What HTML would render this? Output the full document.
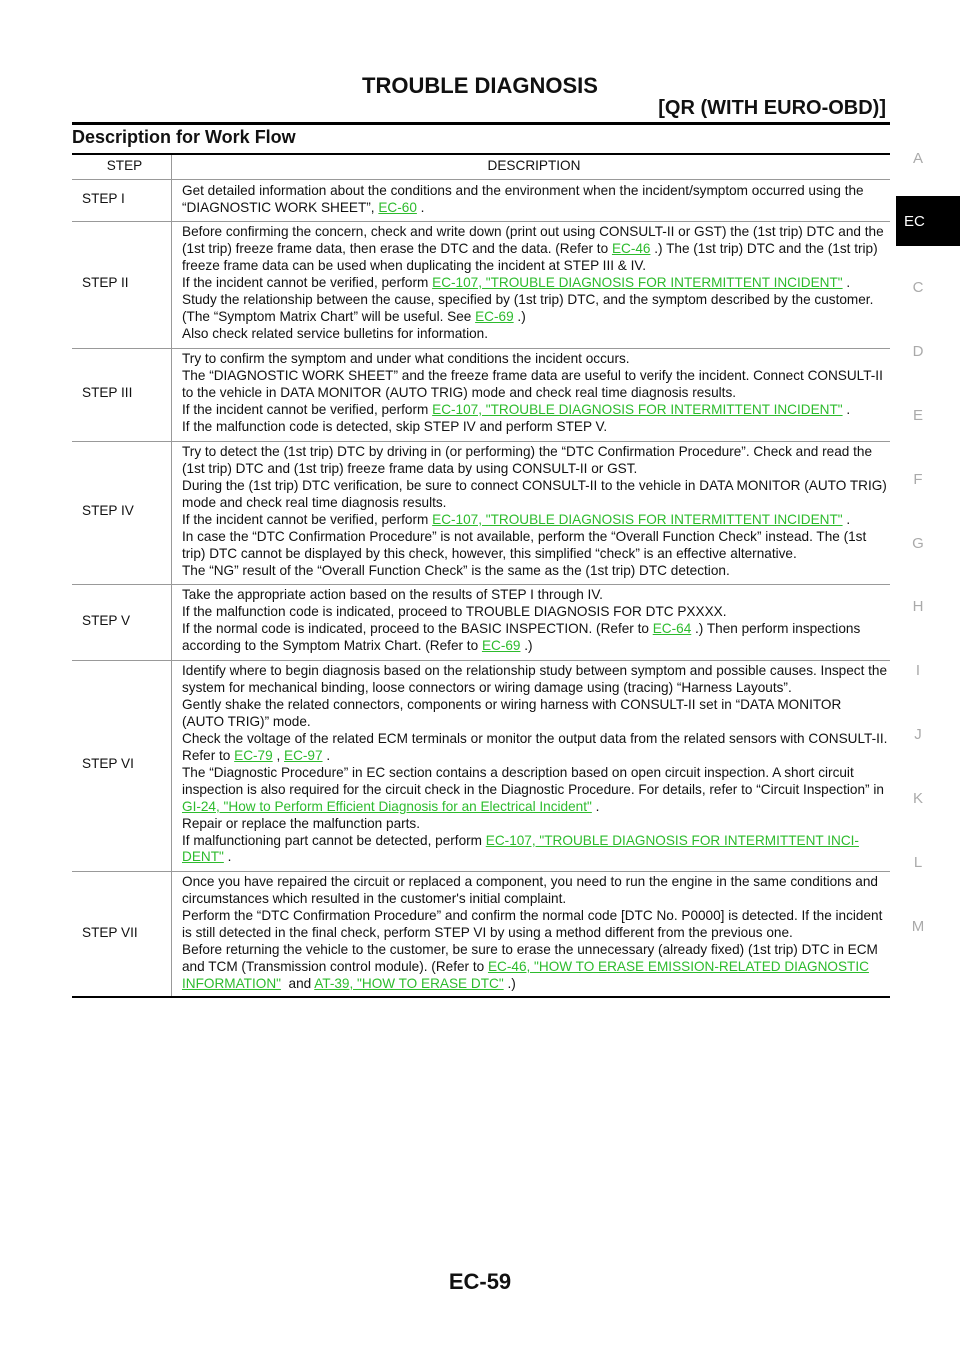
<!DOCTYPE html>
<html><head><meta charset="utf-8"><style>
body{margin:0;width:960px;height:1358px;position:relative;background:#fff;font-family:"Liberation Sans",Arial,sans-serif;color:#111;overflow:hidden}
.a{position:absolute;white-space:nowrap}
.t{position:absolute;left:182px;font-size:13.6px;line-height:16px;white-space:nowrap}
.s{position:absolute;left:82px;font-size:13.6px;line-height:16px}
a,.l{color:#2dbb2d;text-decoration:underline}
.hr{position:absolute;left:72px;width:818px;height:1px;background:#999}
.tab{position:absolute;left:908px;width:20px;text-align:center;font-size:15px;color:#aaa}
</style></head><body>
<div class="a" style="left:0;width:960px;text-align:center;top:73px;font-size:22px;font-weight:bold">TROUBLE DIAGNOSIS</div>
<div class="a" style="right:74px;top:97px;font-size:20px;font-weight:bold">[QR (WITH EURO-OBD)]</div>
<div style="position:absolute;left:72px;top:122px;width:818px;height:3px;background:#000"></div>
<div class="a" style="left:72px;top:127px;font-size:18px;font-weight:bold">Description for Work Flow</div>
<div style="position:absolute;left:72px;top:153px;width:818px;height:2px;background:#000"></div>
<div style="position:absolute;left:72px;top:996px;width:818px;height:2px;background:#000"></div>
<div style="position:absolute;left:171px;top:155px;width:1px;height:841px;background:#999"></div>
<div class="hr" style="top:179px"></div>
<div class="hr" style="top:221px"></div>
<div class="hr" style="top:348px"></div>
<div class="hr" style="top:441px"></div>
<div class="hr" style="top:584px"></div>
<div class="hr" style="top:660px"></div>
<div class="hr" style="top:871px"></div>
<div class="a" style="left:72px;width:105px;text-align:center;top:158px;font-size:13.6px">STEP</div>
<div class="a" style="left:172px;width:724px;text-align:center;top:158px;font-size:13.6px">DESCRIPTION</div>

<div class="s" style="top:191px">STEP I</div>
<div class="t" style="top:183px">Get detailed information about the conditions and the environment when the incident/symptom occurred using the</div>
<div class="t" style="top:200px">“DIAGNOSTIC WORK SHEET”, <a>EC-60</a> .</div>

<div class="s" style="top:275px">STEP II</div>
<div class="t" style="top:224px">Before confirming the concern, check and write down (print out using CONSULT-II or GST) the (1st trip) DTC and the</div>
<div class="t" style="top:241px">(1st trip) freeze frame data, then erase the DTC and the data. (Refer to <a>EC-46</a> .) The (1st trip) DTC and the (1st trip)</div>
<div class="t" style="top:258px">freeze frame data can be used when duplicating the incident at STEP III &amp; IV.</div>
<div class="t" style="top:275px">If the incident cannot be verified, perform <a>EC-107, "TROUBLE DIAGNOSIS FOR INTERMITTENT INCIDENT"</a> .</div>
<div class="t" style="top:292px">Study the relationship between the cause, specified by (1st trip) DTC, and the symptom described by the customer.</div>
<div class="t" style="top:309px">(The “Symptom Matrix Chart” will be useful. See <a>EC-69</a> .)</div>
<div class="t" style="top:326px">Also check related service bulletins for information.</div>

<div class="s" style="top:385px">STEP III</div>
<div class="t" style="top:351px">Try to confirm the symptom and under what conditions the incident occurs.</div>
<div class="t" style="top:368px">The “DIAGNOSTIC WORK SHEET” and the freeze frame data are useful to verify the incident. Connect CONSULT-II</div>
<div class="t" style="top:385px">to the vehicle in DATA MONITOR (AUTO TRIG) mode and check real time diagnosis results.</div>
<div class="t" style="top:402px">If the incident cannot be verified, perform <a>EC-107, "TROUBLE DIAGNOSIS FOR INTERMITTENT INCIDENT"</a> .</div>
<div class="t" style="top:419px">If the malfunction code is detected, skip STEP IV and perform STEP V.</div>

<div class="s" style="top:503px">STEP IV</div>
<div class="t" style="top:444px">Try to detect the (1st trip) DTC by driving in (or performing) the “DTC Confirmation Procedure”. Check and read the</div>
<div class="t" style="top:461px">(1st trip) DTC and (1st trip) freeze frame data by using CONSULT-II or GST.</div>
<div class="t" style="top:478px">During the (1st trip) DTC verification, be sure to connect CONSULT-II to the vehicle in DATA MONITOR (AUTO TRIG)</div>
<div class="t" style="top:495px">mode and check real time diagnosis results.</div>
<div class="t" style="top:512px">If the incident cannot be verified, perform <a>EC-107, "TROUBLE DIAGNOSIS FOR INTERMITTENT INCIDENT"</a> .</div>
<div class="t" style="top:529px">In case the “DTC Confirmation Procedure” is not available, perform the “Overall Function Check” instead. The (1st</div>
<div class="t" style="top:546px">trip) DTC cannot be displayed by this check, however, this simplified “check” is an effective alternative.</div>
<div class="t" style="top:563px">The “NG” result of the “Overall Function Check” is the same as the (1st trip) DTC detection.</div>

<div class="s" style="top:613px">STEP V</div>
<div class="t" style="top:587px">Take the appropriate action based on the results of STEP I through IV.</div>
<div class="t" style="top:604px">If the malfunction code is indicated, proceed to TROUBLE DIAGNOSIS FOR DTC PXXXX.</div>
<div class="t" style="top:621px">If the normal code is indicated, proceed to the BASIC INSPECTION. (Refer to <a>EC-64</a> .) Then perform inspections</div>
<div class="t" style="top:638px">according to the Symptom Matrix Chart. (Refer to <a>EC-69</a> .)</div>

<div class="s" style="top:756px">STEP VI</div>
<div class="t" style="top:663px">Identify where to begin diagnosis based on the relationship study between symptom and possible causes. Inspect the</div>
<div class="t" style="top:680px">system for mechanical binding, loose connectors or wiring damage using (tracing) “Harness Layouts”.</div>
<div class="t" style="top:697px">Gently shake the related connectors, components or wiring harness with CONSULT-II set in “DATA MONITOR</div>
<div class="t" style="top:714px">(AUTO TRIG)” mode.</div>
<div class="t" style="top:731px">Check the voltage of the related ECM terminals or monitor the output data from the related sensors with CONSULT-II.</div>
<div class="t" style="top:748px">Refer to <a>EC-79</a> , <a>EC-97</a> .</div>
<div class="t" style="top:765px">The “Diagnostic Procedure” in EC section contains a description based on open circuit inspection. A short circuit</div>
<div class="t" style="top:782px">inspection is also required for the circuit check in the Diagnostic Procedure. For details, refer to “Circuit Inspection” in</div>
<div class="t" style="top:799px"><a>GI-24, "How to Perform Efficient Diagnosis for an Electrical Incident"</a> .</div>
<div class="t" style="top:816px">Repair or replace the malfunction parts.</div>
<div class="t" style="top:833px">If malfunctioning part cannot be detected, perform <a>EC-107, "TROUBLE DIAGNOSIS FOR INTERMITTENT INCI-</a></div>
<div class="t" style="top:849px"><a>DENT"</a> .</div>

<div class="s" style="top:925px">STEP VII</div>
<div class="t" style="top:874px">Once you have repaired the circuit or replaced a component, you need to run the engine in the same conditions and</div>
<div class="t" style="top:891px">circumstances which resulted in the customer's initial complaint.</div>
<div class="t" style="top:908px">Perform the “DTC Confirmation Procedure” and confirm the normal code [DTC No. P0000] is detected. If the incident</div>
<div class="t" style="top:925px">is still detected in the final check, perform STEP VI by using a method different from the previous one.</div>
<div class="t" style="top:942px">Before returning the vehicle to the customer, be sure to erase the unnecessary (already fixed) (1st trip) DTC in ECM</div>
<div class="t" style="top:959px">and TCM (Transmission control module). (Refer to <a>EC-46, "HOW TO ERASE EMISSION-RELATED DIAGNOSTIC </a></div>
<div class="t" style="top:976px"><a>INFORMATION"</a> &nbsp;and <a>AT-39, "HOW TO ERASE DTC"</a> .)</div>

<div class="tab" style="top:150px">A</div>
<div style="position:absolute;left:896px;top:196px;width:64px;height:50px;background:#000"></div>
<div class="a" style="left:904px;top:213px;font-size:15px;color:#fff">EC</div>
<div class="tab" style="top:279px">C</div>
<div class="tab" style="top:343px">D</div>
<div class="tab" style="top:407px">E</div>
<div class="tab" style="top:471px">F</div>
<div class="tab" style="top:535px">G</div>
<div class="tab" style="top:598px">H</div>
<div class="tab" style="top:662px">I</div>
<div class="tab" style="top:726px">J</div>
<div class="tab" style="top:790px">K</div>
<div class="tab" style="top:854px">L</div>
<div class="tab" style="top:918px">M</div>

<div class="a" style="left:0;width:960px;text-align:center;top:1269px;font-size:22px;font-weight:bold">EC-59</div>
</body></html>
